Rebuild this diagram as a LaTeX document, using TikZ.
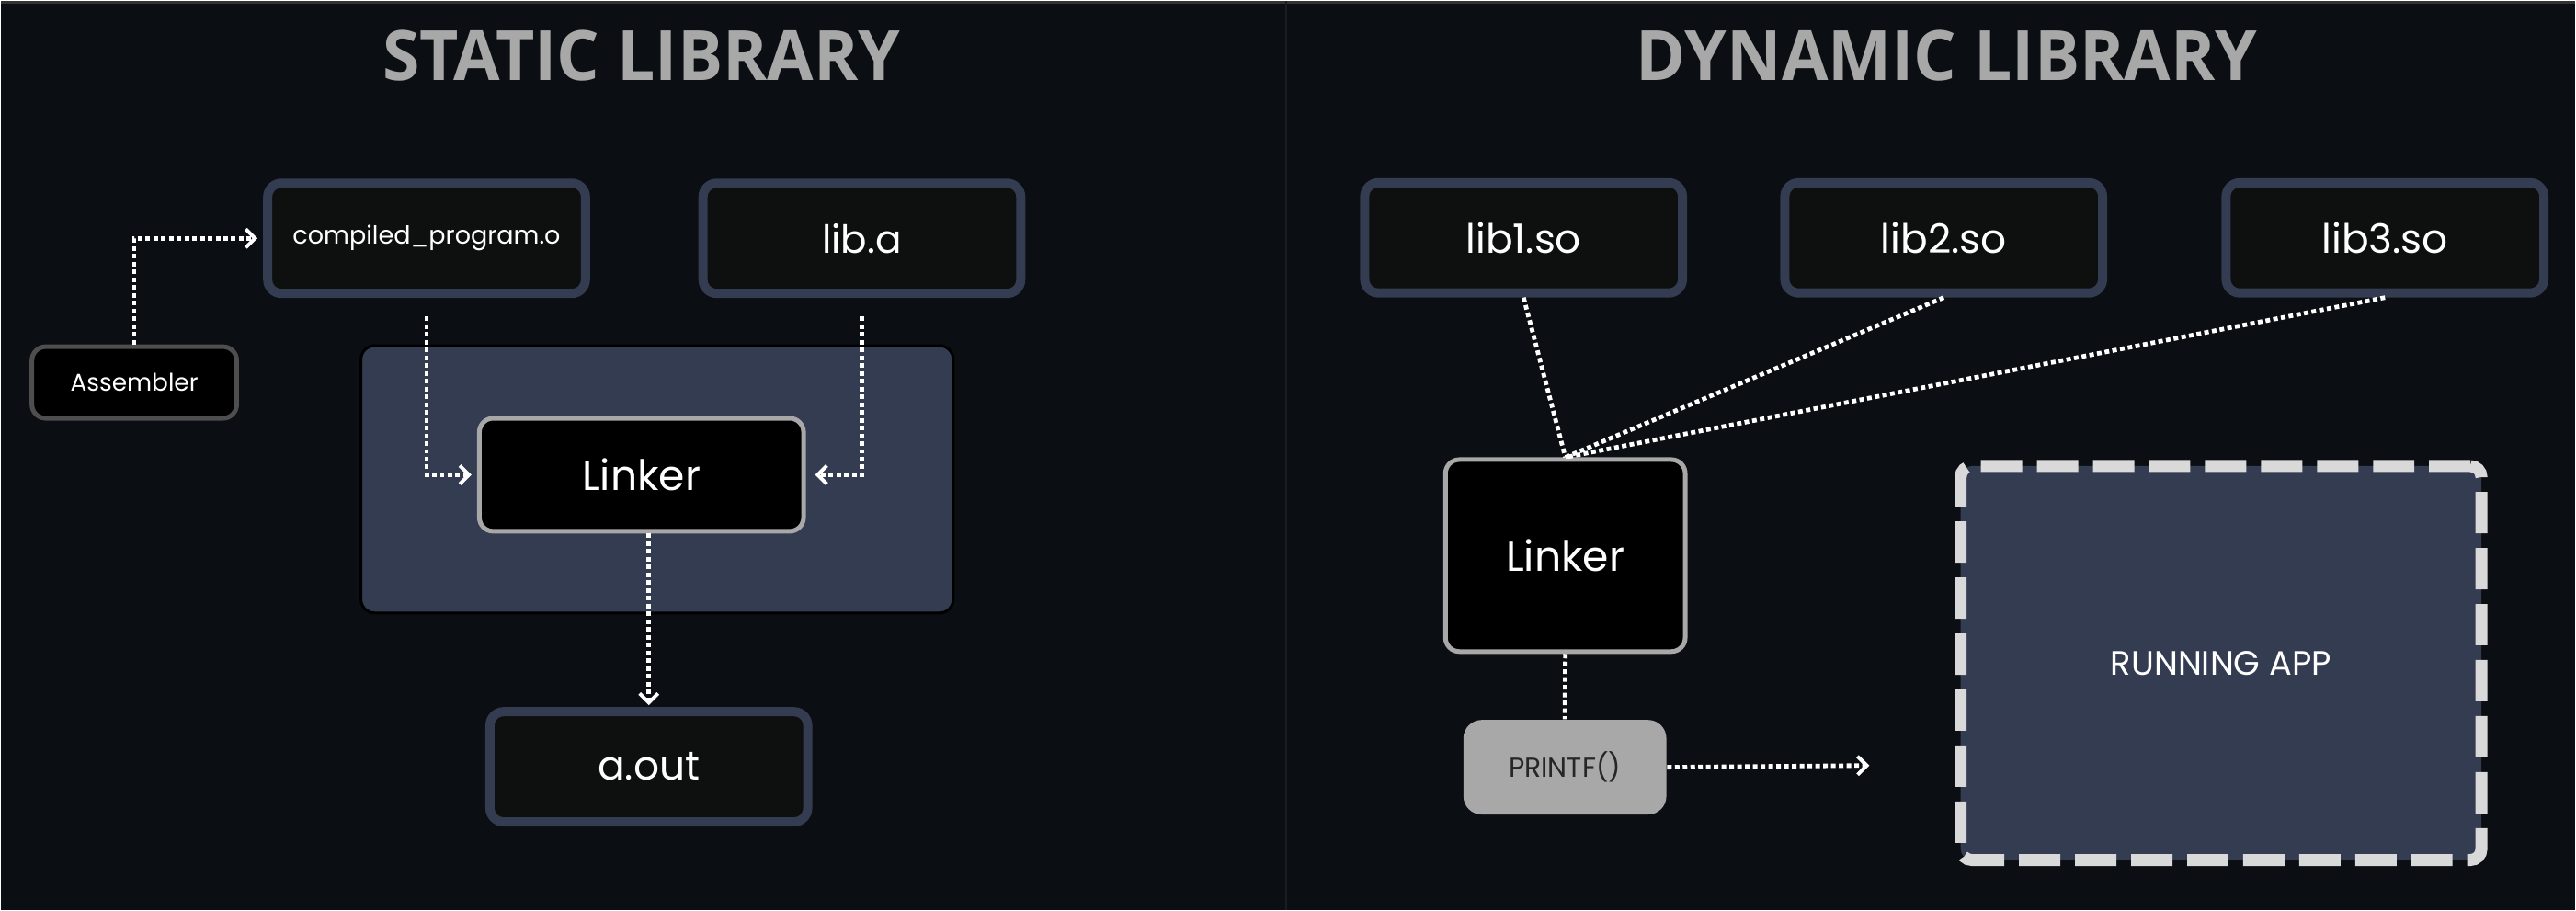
\documentclass[tikz,border=0pt]{standalone}
\usepackage{fontspec}
\setmainfont{Poppins}
\newfontfamily\titlefont{Open Sans}
\usetikzlibrary{arrows.meta,positioning}

\definecolor{bgdark}{HTML}{0B0E12}
\definecolor{boxfill}{HTML}{0E0F0F}
\definecolor{slate}{HTML}{343C51}
\definecolor{midgray}{HTML}{4E4E4E}
\definecolor{lightgray}{HTML}{A8A8A8}
\definecolor{dashgray}{HTML}{D9D9D9}

\begin{document}
\begin{tikzpicture}[
        title/.style={text=lightgray, font=\titlefont\bfseries\fontsize{21.5}{26}\selectfont, xscale=0.97},
        libbox/.style={rectangle, draw=slate, line width=0.1cm, fill=boxfill, rounded corners=0.15cm,
            minimum width=3.46cm, minimum height=1.2cm, text=white, font=\fontsize{12.5}{15}\selectfont},
        linkbox/.style={rectangle, draw=lightgray, line width=0.05cm, fill=black, rounded corners=0.15cm,
            text=white, font=\fontsize{13}{16}\selectfont},
        link/.style={draw=white, line width=0.048cm, dash pattern=on 0.05cm off 0.035cm},
        tip/.style={-{Straight Barb[length=0.1cm, width=0.2cm, line width=0.04cm]}, shorten >=0.06cm}]

    % background
    \fill[bgdark] (0,0) rectangle (28.02,-9.9);
    \draw[black!80, line width=0.03cm] (0,-0.01) -- (28.02,-0.01);
    \draw[white!6!bgdark, line width=0.02cm] (13.99,0) -- (13.99,-9.9);

    % static side
    \node[title] (static) at (6.97,-0.6) {STATIC LIBRARY};
    \node[rectangle, draw=black, line width=0.03cm, fill=slate, rounded corners=0.15cm,
        minimum width=6.45cm, minimum height=2.91cm] (region) at (7.14,-5.21) {};
    \node[libbox, font=\fontsize{7.7}{10}\selectfont] (compiled) at (4.63,-2.585) {compiled\_program.o};
    \node[libbox, font=\fontsize{12}{15}\selectfont] (liba) at (9.37,-2.585) {lib.a};
    \node[rectangle, draw=midgray, line width=0.05cm, fill=black, rounded corners=0.15cm,
        minimum width=2.23cm, minimum height=0.78cm, text=white, font=\fontsize{7.5}{9}\selectfont]
        (asm) at (1.4475,-4.155) {Assembler};
    \node[linkbox, minimum width=3.53cm, minimum height=1.23cm] (linkA) at (6.97,-5.16) {Linker};
    \node[libbox] (aout) at (7.05,-8.34) {a.out};

    \draw[link, tip] (asm.north) |- (compiled.west);
    \draw[link, tip] ([yshift=-0.2cm]compiled.south) |- (linkA.west);
    \draw[link, tip, shorten >=0.1cm] ([yshift=-0.2cm]liba.south) |- (linkA.east);
    \draw[link, tip, shorten >=0.02cm] (linkA.south -| aout.north) -- (aout.north);

    % dynamic side
    \node[title] (dynamic) at (21.18,-0.6) {DYNAMIC LIBRARY};
    \node[libbox] (lib1) at (16.575,-2.58) {lib1.so};
    \node[libbox] (lib2) at (21.15,-2.58) {lib2.so};
    \node[libbox] (lib3) at (25.955,-2.58) {lib3.so};
    \node[linkbox, minimum width=2.61cm, minimum height=2.09cm] (linkB) at (17.03,-6.04) {Linker};
    \node[rectangle, fill=lightgray, rounded corners=0.2cm, minimum width=2.21cm, minimum height=1.03cm,
        text=black!85, font=\fontsize{8.5}{10}\selectfont] (printf) at (17.025,-8.345) {PRINTF()};
    \node[rectangle, draw=dashgray, fill=slate, line width=0.13cm, dash pattern=on 0.45cm off 0.16cm,
        rounded corners=0.12cm, minimum width=5.67cm, minimum height=4.29cm, text=white,
        font=\fontsize{10.5}{13}\selectfont] (app) at (24.17,-7.21) {RUNNING APP};
    \coordinate (appin) at (20.4,-8.325);

    \draw[link] (lib1.south) -- (linkB.north);
    \draw[link] (lib2.south) -- (linkB.north);
    \draw[link] (lib3.south) -- (linkB.north);
    \draw[link] (linkB.south) -- (printf.north);
    \draw[link, tip] (printf.east) -- (appin);
\end{tikzpicture}
\end{document}
